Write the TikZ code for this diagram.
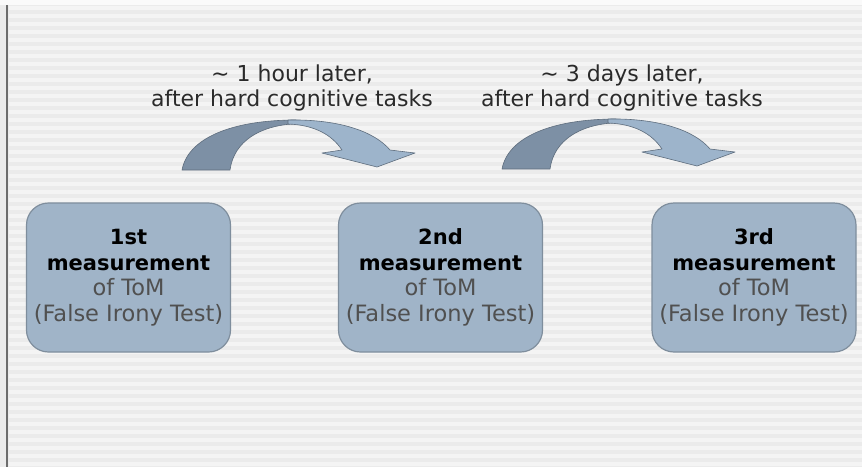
\documentclass[tikz,border=0pt]{standalone}
\usepackage{fontspec}
\setmainfont{DejaVu Sans}
\definecolor{bgbase}{HTML}{EBEBEB}
\definecolor{bgstripe}{HTML}{F4F4F4}
\definecolor{boxfill}{HTML}{A0B4C8}
\definecolor{boxedge}{HTML}{7F8E9D}
\definecolor{arrdark}{HTML}{7D90A5}
\definecolor{arrlight}{HTML}{9DB4CB}
\definecolor{arredge}{HTML}{5E6D7D}
\definecolor{txtgray}{HTML}{505050}
\definecolor{txtdark}{HTML}{2A2A2A}
\newcommand{\boldline}[1]{{\fontsize{21}{25.5}\selectfont\bfseries\color{black}#1}}
\tikzset{
  measbox/.style={draw=boxedge, line width=1.2pt, fill=boxfill, rounded corners=22pt,
    minimum width=204pt, minimum height=149pt, align=center, text=txtgray,
    font=\fontsize{22.5}{25.5}\selectfont, inner sep=0pt},
  toplabel/.style={align=center, text=txtdark, font=\fontsize{22}{25}\selectfont, inner sep=0pt},
  darkpart/.style={fill=arrdark, draw=arredge, line width=0.6pt, line join=round},
  lightpart/.style={fill=arrlight, draw=arredge, line width=0.6pt, line join=round}
}
\newcommand{\curvedarrow}{%
  \path[darkpart] (182,170) .. controls (188,138) and (232,120) .. (296,120)
    -- (292,124) .. controls (262,126) and (234,140) .. (230,170) -- cycle;
  \path[lightpart] (288,120) .. controls (340,119) and (375,132) .. (390,150)
    -- (415,153) -- (377,167) -- (322,153) -- (342,150)
    .. controls (332,135) and (315,125) .. (288,124) -- cycle;
}
\begin{document}
\begin{tikzpicture}[x=1pt,y=-1pt]
\useasboundingbox (0,0) rectangle (862,467);
\fill[bgbase] (0,0) rectangle (862,467);
\foreach \yy in {6,14,...,462} { \fill[bgstripe] (9,\yy) rectangle (862,\yy+4); }
\fill[white!96!gray] (0,0) rectangle (862,5);
\fill[gray!85!black] (6,5) rectangle (8,467);

\node[toplabel] (l1) at (292,88) {\textasciitilde{} 1 hour later,\\after hard cognitive tasks};
\node[toplabel] (l2) at (622,88) {\textasciitilde{} 3 days later,\\after hard cognitive tasks};

\curvedarrow
\begin{scope}[xshift=320pt, yshift=1pt]
\curvedarrow
\end{scope}

\node[measbox] (b1) at (128.5,277.5) {\boldline{1st}\\\boldline{measurement}\\of ToM\\(False Irony Test)};
\node[measbox] (b2) at (440.5,277.5) {\boldline{2nd}\\\boldline{measurement}\\of ToM\\(False Irony Test)};
\node[measbox] (b3) at (754,277.5) {\boldline{3rd}\\\boldline{measurement}\\of ToM\\(False Irony Test)};
\end{tikzpicture}
\end{document}
